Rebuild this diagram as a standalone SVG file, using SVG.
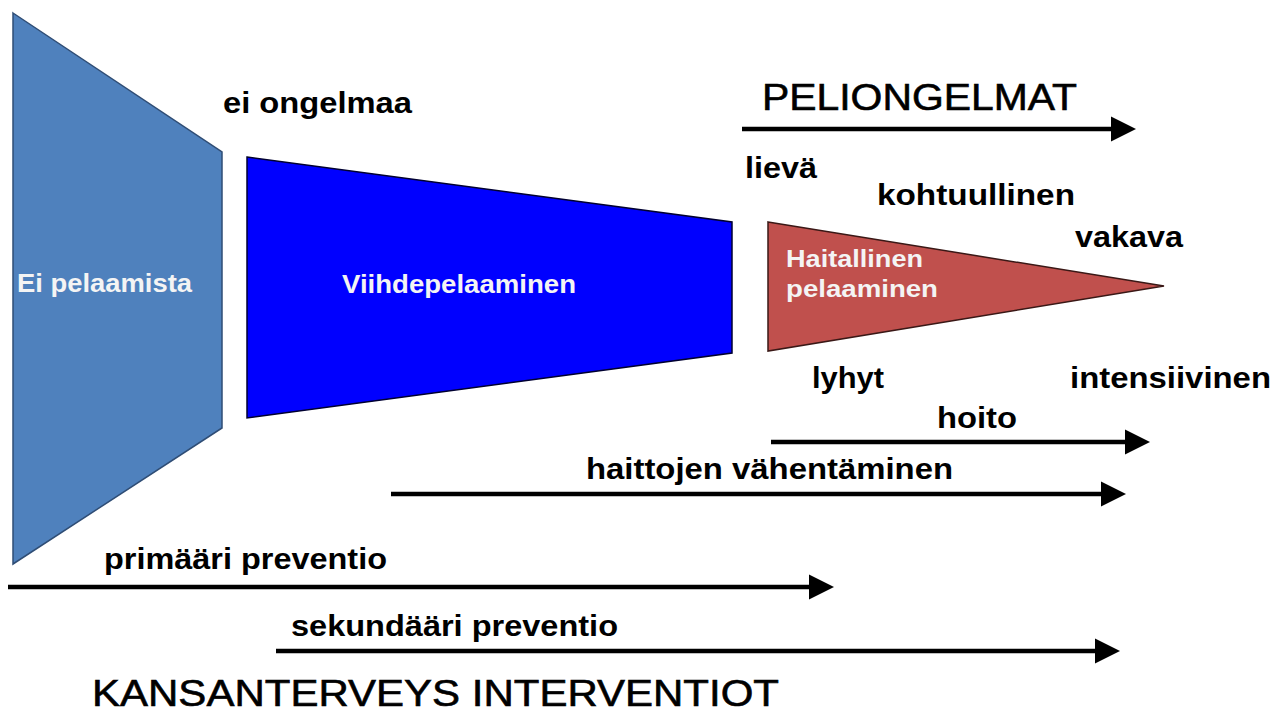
<svg xmlns="http://www.w3.org/2000/svg" width="1284" height="713" viewBox="0 0 1284 713">
<style>
.lbl{font-family:"Liberation Sans",Arial,sans-serif;font-weight:bold;font-size:30px;fill:#000}
.head{font-family:"Liberation Sans",Arial,sans-serif;font-weight:normal;fill:#000;stroke:#000;stroke-width:0.6}
.in{font-family:"Liberation Sans",Arial,sans-serif;font-weight:bold;fill:#f4f4f4}
.conn{stroke:#000;stroke-width:4.5;fill:none;marker-end:url(#ah)}
</style>
<defs>
<marker id="ah" markerUnits="userSpaceOnUse" markerWidth="26" markerHeight="26" refX="0" refY="12.5" orient="auto" overflow="visible">
<path d="M0,0 L25,12.5 L0,25 Z" fill="#000"/>
</marker>
</defs>
<rect width="1284" height="713" fill="#fff"/>
<g id="ei-pelaamista">
<polygon points="13,13 222,152 222,428 13,564" fill="#4f81bd" stroke="#2f4d75" stroke-width="1.5"/>
<text class="in" x="17" y="292" font-size="26" textLength="175" lengthAdjust="spacingAndGlyphs">Ei pelaamista</text>
</g>
<g id="viihdepelaaminen">
<polygon points="247,157 732,222 732,353 247,418" fill="#0000ff" stroke="#000030" stroke-width="1.5"/>
<text class="in" x="342" y="293" font-size="26" textLength="234" lengthAdjust="spacingAndGlyphs">Viihdepelaaminen</text>
</g>
<g id="haitallinen">
<polygon points="768,222 1164,286 768,351" fill="#c0504d" stroke="#3a1816" stroke-width="1.5"/>
<text class="in" x="786" y="267" font-size="24" textLength="137" lengthAdjust="spacingAndGlyphs">Haitallinen</text>
<text class="in" x="786" y="297" font-size="24" textLength="152" lengthAdjust="spacingAndGlyphs">pelaaminen</text>
</g>
<g id="labels">
<text class="lbl" x="223" y="113" font-size="32" textLength="189" lengthAdjust="spacingAndGlyphs">ei ongelmaa</text>
<text class="head" x="762" y="110" font-size="37" textLength="315" lengthAdjust="spacingAndGlyphs">PELIONGELMAT</text>
<text class="lbl" x="745" y="178" textLength="72" lengthAdjust="spacingAndGlyphs">lievä</text>
<text class="lbl" x="877" y="205" textLength="198" lengthAdjust="spacingAndGlyphs">kohtuullinen</text>
<text class="lbl" x="1075" y="247" textLength="108" lengthAdjust="spacingAndGlyphs">vakava</text>
<text class="lbl" x="812" y="388" textLength="72" lengthAdjust="spacingAndGlyphs">lyhyt</text>
<text class="lbl" x="1070" y="388" textLength="201" lengthAdjust="spacingAndGlyphs">intensiivinen</text>
<text class="lbl" x="937" y="428" textLength="80" lengthAdjust="spacingAndGlyphs">hoito</text>
<text class="lbl" x="586" y="479" font-size="31" textLength="367" lengthAdjust="spacingAndGlyphs">haittojen vähentäminen</text>
<text class="lbl" x="104" y="569" font-size="31" textLength="283" lengthAdjust="spacingAndGlyphs">primääri preventio</text>
<text class="lbl" x="291" y="636" font-size="31" textLength="327" lengthAdjust="spacingAndGlyphs">sekundääri preventio</text>
<text class="head" x="92" y="706" font-size="37" textLength="687" lengthAdjust="spacingAndGlyphs">KANSANTERVEYS INTERVENTIOT</text>
</g>
<g id="connectors">
<line class="conn" x1="742" y1="129" x2="1111" y2="129"/>
<line class="conn" x1="771" y1="442" x2="1125" y2="442"/>
<line class="conn" x1="391" y1="494" x2="1101" y2="494"/>
<line class="conn" x1="8" y1="587" x2="809" y2="587"/>
<line class="conn" x1="276" y1="651" x2="1095" y2="651"/>
</g>
</svg>
